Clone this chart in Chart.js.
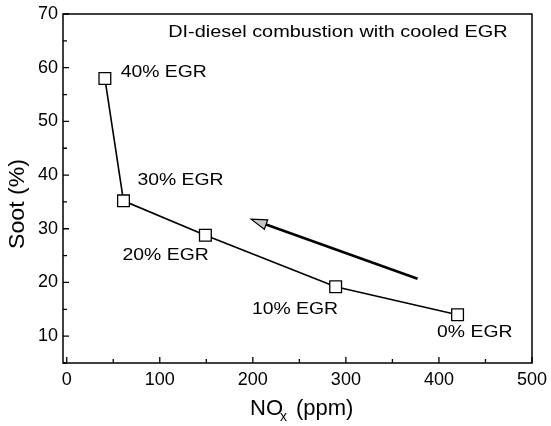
<!DOCTYPE html>
<html>
<head>
<meta charset="utf-8">
<script src="https://cdn.jsdelivr.net/npm/chart.js@4/dist/chart.umd.min.js"></script>
<style>
  html, body { margin: 0; padding: 0; background: #fff; }
  #wrap { width: 551px; height: 426px; }
</style>
</head>
<body>
<div id="wrap"><canvas id="soot"></canvas></div>
<script>
// measured points (NOx ppm, soot %)
const egrLabels = ['40% EGR', '30% EGR', '20% EGR', '10% EGR', '0% EGR'];
const noxValues = [41, 61, 149, 289, 420];
const sootValues = [58, 35.2, 28.8, 19.2, 14];

// where each label sits (data units, left edge / middle)
const labelX = [58, 76, 60, 199, 398];
const labelY = [59.2, 39.1, 25, 15, 10.8];

const xTicks = [0, 100, 200, 300, 400, 500];
const yTicks = [10, 20, 30, 40, 50, 60, 70];

const noteText = 'DI-diesel combustion with cooled EGR';
const notePos = [109, 66.6];
// arrow: tail -> head
const arrowFrom = [377, 20.7];
const arrowTo = [198, 31.8];

const FONT = '"Liberation Sans", Arial, sans-serif';

// scanned lettering is a bit wider than Arial, so stretch it
function wideText(ctx, t, x, y, sx) {
  ctx.save();
  ctx.translate(x, y);
  ctx.scale(sx, 1);
  ctx.fillText(t, 0, 0);
  ctx.restore();
}

const extras = {
  id: 'extras',
  afterDraw(chart) {
    const { ctx, chartArea: a, scales: { x, y } } = chart;
    ctx.save();
    // frame
    ctx.strokeStyle = '#000';
    ctx.lineWidth = 1.5;
    ctx.strokeRect(a.left, a.top, a.right - a.left, a.bottom - a.top);

    // inward ticks, major and minor
    ctx.lineWidth = 1.3;
    ctx.beginPath();
    for (let v = 0; v <= 500; v += 50) {
      const px = x.getPixelForValue(v);
      const len = v % 100 === 0 ? 6 : 4;
      ctx.moveTo(px, a.bottom); ctx.lineTo(px, a.bottom - len);
    }
    for (let v = 5; v <= 70; v += 5) {
      const py = y.getPixelForValue(v);
      const len = v % 10 === 0 ? 6 : 4;
      ctx.moveTo(a.left, py); ctx.lineTo(a.left + len, py);
    }
    ctx.stroke();

    // point labels
    ctx.fillStyle = '#000';
    ctx.font = '17px ' + FONT;
    ctx.textBaseline = 'middle';
    ctx.textAlign = 'left';
    egrLabels.forEach((t, i) => {
      wideText(ctx, t, x.getPixelForValue(labelX[i]), y.getPixelForValue(labelY[i]), 1.14);
    });
    wideText(ctx, noteText, x.getPixelForValue(notePos[0]), y.getPixelForValue(notePos[1]), 1.17);

    // arrow
    const x1 = x.getPixelForValue(arrowFrom[0]), y1 = y.getPixelForValue(arrowFrom[1]);
    const x2 = x.getPixelForValue(arrowTo[0]), y2 = y.getPixelForValue(arrowTo[1]);
    const ang = Math.atan2(y2 - y1, x2 - x1);
    const hl = 16, hw = 5;
    const bx = x2 - hl * Math.cos(ang), by = y2 - hl * Math.sin(ang);
    ctx.lineWidth = 2.6;
    ctx.beginPath();
    ctx.moveTo(x1, y1); ctx.lineTo(bx, by);
    ctx.stroke();
    ctx.beginPath();
    ctx.moveTo(x2, y2);
    ctx.lineTo(bx + hw * Math.sin(ang), by - hw * Math.cos(ang));
    ctx.lineTo(bx - hw * Math.sin(ang), by + hw * Math.cos(ang));
    ctx.closePath();
    ctx.fillStyle = '#c8c8c8';
    ctx.fill();
    ctx.lineWidth = 1.2;
    ctx.stroke();

    // axis titles
    ctx.fillStyle = '#000';
    ctx.font = '22px ' + FONT;
    ctx.textAlign = 'left';
    ctx.textBaseline = 'alphabetic';
    const w1 = ctx.measureText('NO').width;
    ctx.fillText('NO', 250, 415);
    ctx.fillText('(ppm)', 250 + w1 + 13, 415);
    ctx.font = '14px ' + FONT;
    ctx.fillText('x', 250 + w1 - 3, 421);

    ctx.font = '22px ' + FONT;
    ctx.translate(24, 204);
    ctx.rotate(-Math.PI / 2);
    ctx.textAlign = 'center';
    wideText(ctx, 'Soot (%)', 0, 0, 1.05);
    ctx.restore();
  }
};

new Chart(document.getElementById('soot'), {
  type: 'scatter',
  data: {
    datasets: [{
      data: noxValues.map((v, i) => ({ x: v, y: sootValues[i] })),
      showLine: true,
      borderColor: '#000',
      borderWidth: 1.6,
      pointStyle: 'rect',
      pointRadius: 8.3,
      pointBorderWidth: 1.3,
      pointBackgroundColor: '#fff',
      pointBorderColor: '#000'
    }]
  },
  plugins: [extras],
  options: {
    responsive: true,
    maintainAspectRatio: false,
    animation: false,
    layout: { padding: { top: 14, right: 19, left: 0, bottom: 0 } },
    plugins: { legend: { display: false }, tooltip: { enabled: false } },
    scales: {
      x: {
        type: 'linear', min: -4, max: 500,
        afterBuildTicks: s => { s.ticks = xTicks.map(v => ({ value: v })); },
        afterFit: s => { s.height = 63; s.paddingRight = 0; s.paddingLeft = 0; },
        grid: { display: false, drawTicks: false },
        border: { display: false },
        ticks: { color: '#000', font: { family: FONT, size: 18 }, padding: 6, maxRotation: 0 }
      },
      y: {
        type: 'linear', min: 5, max: 70,
        afterBuildTicks: s => { s.ticks = yTicks.map(v => ({ value: v })); },
        afterFit: s => { s.width = 63; s.paddingTop = 0; s.paddingBottom = 0; },
        grid: { display: false, drawTicks: false },
        border: { display: false },
        ticks: { color: '#000', font: { family: FONT, size: 18 }, padding: 5 }
      }
    }
  }
});
</script>
</body>
</html>
